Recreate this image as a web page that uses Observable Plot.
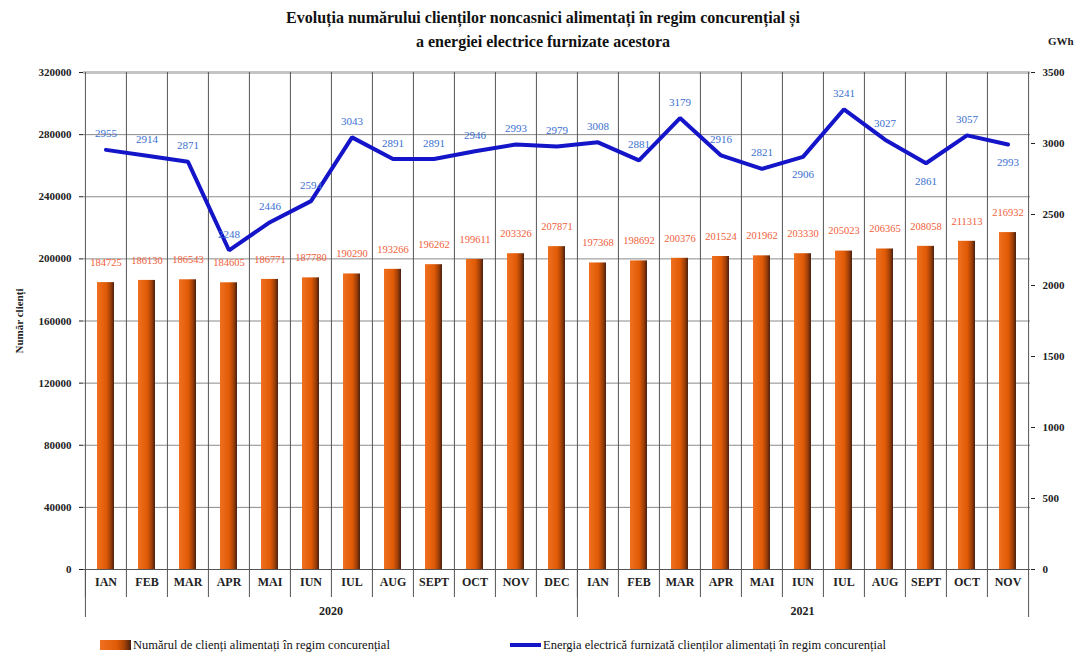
<!DOCTYPE html>
<html><head><meta charset="utf-8">
<script src="https://cdn.jsdelivr.net/npm/d3@7"></script>
<script src="https://cdn.jsdelivr.net/npm/@observablehq/plot@0.6"></script>
<style>
body{margin:0;background:#fff;font-family:'Liberation Serif',serif;}
#wrap{position:relative;width:1086px;height:655px;overflow:hidden;background:#fff;font-family:'Liberation Serif',serif;}
#title{position:absolute;left:0;top:6px;width:1086px;text-align:center;font-weight:bold;font-size:16px;line-height:24px;color:#111;}
#gwh{position:absolute;left:1048px;top:35px;font-weight:bold;font-size:11px;color:#222;}
#chart{position:absolute;left:0;top:62px;}
#chart svg, #chart svg text{font-family:'Liberation Serif',serif !important;}
.lg{position:absolute;top:637px;font-size:12.5px;line-height:16px;color:#111;white-space:nowrap;font-family:'Liberation Serif',serif;}
.sw1{position:absolute;left:100px;top:640px;width:31px;height:10px;background:linear-gradient(to right,#f07020 0%,#e05a05 55%,#a04008 80%,#4a2010 100%);}
.sw2{position:absolute;left:510px;top:643px;width:31px;height:4px;background:#1414c8;}
</style>
</head><body>
<div id="wrap">
  <div id="title">Evoluția numărului clienților noncasnici alimentați în regim concurențial și<br>a energiei electrice furnizate acestora</div>
  <div id="gwh">GWh</div>
  <div id="chart"></div>
  <div class="sw1"></div><div class="lg" style="left:133px">Numărul de clienți alimentați în regim concurențial</div>
  <div class="sw2"></div><div class="lg" style="left:543px">Energia electrică furnizată clienților alimentați în regim concurențial</div>
</div>
<script>
const years = ["2020", "2021"];
const months2020 = ["IAN","FEB","MAR","APR","MAI","IUN","IUL","AUG","SEPT","OCT","NOV","DEC"];
const months2021 = ["IAN","FEB","MAR","APR","MAI","IUN","IUL","AUG","SEPT","OCT","NOV"];
const clients2020 = [184725,186130,186543,184605,186771,187780,190290,193266,196262,199611,203326,207871];
const clients2021 = [197368,198692,200376,201524,201962,203330,205023,206365,208058,211313,216932];
const energy2020 = [2955,2914,2871,2248,2446,2594,3043,2891,2891,2946,2993,2979];
const energy2021 = [3008,2881,3179,2916,2821,2906,3241,3027,2861,3057,2993];
const leftTicks = [0,40000,80000,120000,160000,200000,240000,280000,320000];
const rightTicks = [0,500,1000,1500,2000,2500,3000,3500];

const rows = [];
months2020.forEach((m,i)=>rows.push({key:m+"|2020", month:m, year:"2020", clients:clients2020[i], energy:energy2020[i]}));
months2021.forEach((m,i)=>rows.push({key:m+"|2021", month:m, year:"2021", clients:clients2021[i], energy:energy2021[i]}));
const keys = rows.map(d=>d.key);

const W=1086, H=570, ML=83, MR=56, MT=10, MB=63;
const bw=(W-ML-MR)/rows.length;
const yMax = 320000, rMax = 3500;
const k = yMax/rMax;
const labelBelow = new Set(["IUN|2021","SEPT|2021","NOV|2021"]);
const font = "Liberation Serif, serif";

const chart = Plot.plot({
  width:W, height:H, marginLeft:ML, marginRight:MR, marginTop:MT, marginBottom:MB,
  style:{fontFamily:font, background:"white", overflow:"visible", color:"#222"},
  x:{type:"band", domain:keys, padding:0, label:null},
  y:{domain:[0,yMax], label:null},
  marks:[
    Plot.ruleY(leftTicks.filter(v=>v>0 && v<yMax), {stroke:"#8a8a8a", strokeWidth:1}),
    Plot.ruleY([yMax], {stroke:"#c4c4c4", strokeWidth:3}),
    Plot.ruleX(rows, {x:"key", dx:-bw/2, y1:yMax, y2:0, stroke:"#555", strokeWidth:1, insetBottom:-28}),
    Plot.ruleX(rows.filter(d=>d.month==="IAN"), {x:"key", dx:-bw/2, y1:0, y2:0, stroke:"#555", strokeWidth:1, insetBottom:-48}),
    Plot.ruleX(rows.slice(-1), {x:"key", dx:bw/2, y1:yMax, y2:0, stroke:"#555", strokeWidth:1, insetBottom:-48}),
    Plot.ruleY([0], {stroke:"#555", strokeWidth:1.2}),
    Plot.barY(rows, {x:"key", y:"clients", fill:"url(#barGrad)", insetLeft:12, insetRight:12}),
    Plot.line(rows, {x:"key", y:d=>d.energy*k, stroke:"#1414c8", strokeWidth:4, strokeLinejoin:"miter"}),
    Plot.text(rows, {x:"key", y:"clients", text:d=>String(d.clients), dy:-20, fill:"#f0603a", fontSize:10.5, fontFamily:font}),
    Plot.text(rows.filter(d=>!labelBelow.has(d.key)), {x:"key", y:d=>d.energy*k, text:d=>String(d.energy), dy:-16, fill:"#3a6fd0", fontSize:11, fontFamily:font}),
    Plot.text(rows.filter(d=>labelBelow.has(d.key)), {x:"key", y:d=>d.energy*k, text:d=>String(d.energy), dy:18, fill:"#3a6fd0", fontSize:11, fontFamily:font}),
    Plot.axisY(leftTicks, {anchor:"left", tickFormat:d=>String(d), tickSize:4, tickPadding:8, fontSize:11, fontWeight:"bold", fontFamily:font,
      label:"Număr clienți", labelAnchor:"center", labelArrow:"none", labelOffset:68}),
    Plot.axisY(rightTicks.map(v=>v*k), {anchor:"right", tickFormat:d=>String(Math.round(d/k)), tickSize:4, tickPadding:8, fontSize:11, fontWeight:"bold", fontFamily:font, label:null}),
    Plot.axisX({tickSize:0, tickPadding:8, tickFormat:d=>d.split("|")[0], fontSize:12, fontWeight:"bold", fontFamily:font, label:null})
  ]
});
document.getElementById("chart").appendChild(chart);

const svg = d3.select(chart);
const defs = svg.insert("defs", ":first-child");
const grad = defs.append("linearGradient").attr("id","barGrad").attr("x1",0).attr("x2",1).attr("y1",0).attr("y2",0);
[[0,"#f07020"],[0.55,"#e05a05"],[0.8,"#a04008"],[1,"#4a2010"]].forEach(([o,c])=>grad.append("stop").attr("offset",o).attr("stop-color",c));

const xs = chart.scale("x");
years.forEach(yr=>{
  const ks = rows.filter(d=>d.year===yr).map(d=>d.key);
  const cx = (xs.apply(ks[0]) + xs.apply(ks[ks.length-1]) + xs.bandwidth)/2;
  svg.append("text").attr("x",cx).attr("y",H-MB+43).attr("text-anchor","middle").attr("dominant-baseline","middle")
    .attr("font-family",font).attr("font-size",12).attr("font-weight","bold").attr("fill","#222").text(yr);
});
</script>
</body></html>
